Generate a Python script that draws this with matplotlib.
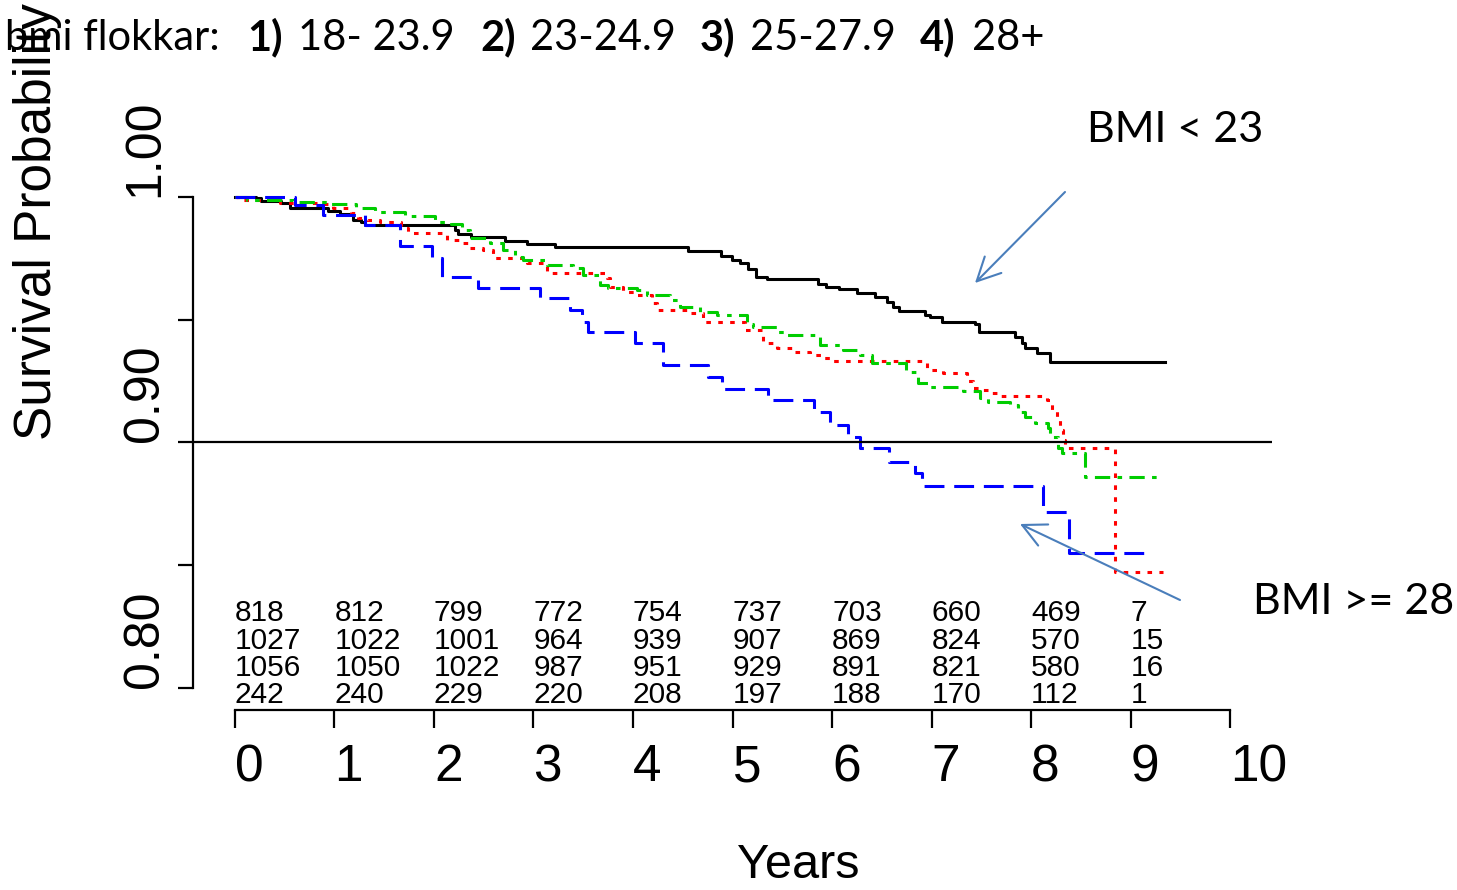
import matplotlib.pyplot as plt

# Kaplan-Meier steps (years, survival)
t_g1 = [0, 0.211, 0.261, 0.462, 0.553, 0.935, 1.055, 1.186, 1.266, 1.307, 2.211, 2.241, 2.372, 2.714,
        2.935, 3.216, 4.553, 4.884, 4.995, 5.075, 5.156, 5.236, 5.347, 5.859, 5.940, 6.070, 6.251,
        6.432, 6.553, 6.613, 6.673, 6.935, 6.985, 7.106, 7.437, 7.477, 7.839, 7.910, 7.940, 8.060, 8.191]
s_g1 = [1.0, 0.9996, 0.9984, 0.9976, 0.9955, 0.9943, 0.9931, 0.9906, 0.9898, 0.9886, 0.9866, 0.9849,
        0.9837, 0.9821, 0.9809, 0.9796, 0.9780, 0.9760, 0.9743, 0.9731, 0.9707, 0.9674, 0.9666, 0.9646,
        0.9633, 0.9625, 0.9609, 0.9593, 0.9572, 0.9552, 0.9536, 0.9519, 0.9511, 0.9491, 0.9483, 0.9450,
        0.9430, 0.9405, 0.9385, 0.9365, 0.9328]
end_g1 = 9.347

t_g2 = [0, 0.03, 0.452, 0.854, 0.985, 1.166, 1.236, 1.327, 1.457, 1.668, 1.739, 2.131, 2.271, 2.342,
        2.492, 2.593, 2.935, 3.136, 3.739, 3.769, 3.899, 4.040, 4.191, 4.241, 4.543, 4.704, 5.126,
        5.296, 5.307, 5.447, 5.608, 5.779, 5.910, 5.980, 6.955, 7.116, 7.357, 7.417, 7.518, 7.608,
        7.688, 8.161, 8.211, 8.261, 8.291, 8.322, 8.342, 8.844]
s_g2 = [1.0, 0.9988, 0.9976, 0.9971, 0.9955, 0.9935, 0.9914, 0.9906, 0.9898, 0.9874, 0.9853, 0.9825,
        0.9813, 0.9792, 0.9784, 0.9752, 0.9731, 0.9690, 0.9670, 0.9633, 0.9613, 0.9601, 0.9568, 0.9540,
        0.9527, 0.9491, 0.9458, 0.9438, 0.9405, 0.9385, 0.9369, 0.9356, 0.9344, 0.9332, 0.9295, 0.9283,
        0.9251, 0.9222, 0.9214, 0.9202, 0.9189, 0.9173, 0.9132, 0.9092, 0.9051, 0.9010, 0.8978, 0.8473]
end_g2 = 9.327

t_g3 = [0, 0.121, 0.583, 0.965, 1.216, 1.407, 1.709, 2.010, 2.171, 2.281, 2.362, 2.563, 2.693, 2.814,
        2.894, 3.136, 3.397, 3.497, 3.668, 3.749, 4.040, 4.141, 4.372, 4.472, 4.673, 4.844, 5.146,
        5.206, 5.447, 5.548, 5.879, 6.111, 6.281, 6.402, 6.744, 6.864, 6.985, 7.317, 7.487, 7.568,
        7.789, 7.869, 7.940, 8.040, 8.171, 8.191, 8.271, 8.312, 8.543]
s_g3 = [1.0, 0.9988, 0.9980, 0.9971, 0.9955, 0.9939, 0.9923, 0.9898, 0.9890, 0.9866, 0.9833, 0.9813,
        0.9784, 0.9756, 0.9743, 0.9723, 0.9711, 0.9682, 0.9642, 0.9629, 0.9621, 0.9601, 0.9580, 0.9552,
        0.9532, 0.9519, 0.9483, 0.9470, 0.9450, 0.9438, 0.9397, 0.9377, 0.9356, 0.9324, 0.9287, 0.9242,
        0.9226, 0.9210, 0.9181, 0.9165, 0.9153, 0.9124, 0.9104, 0.9079, 0.9059, 0.9022, 0.8978, 0.8957,
        0.8859]
end_g3 = 9.286

t_g4 = [0, 0.603, 0.884, 1.307, 1.658, 1.980, 2.080, 2.442, 3.065, 3.367, 3.487, 3.548, 4.020, 4.302,
        4.754, 4.894, 5.357, 5.819, 5.980, 6.161, 6.281, 6.573, 6.834, 6.905, 8.121, 8.382]
s_g4 = [1.0, 0.9967, 0.9927, 0.9886, 0.9801, 0.9752, 0.9674, 0.9629, 0.9589, 0.9540, 0.9491, 0.9450,
        0.9405, 0.9316, 0.9267, 0.9218, 0.9173, 0.9124, 0.9071, 0.9022, 0.8978, 0.8921, 0.8876, 0.8823,
        0.8717, 0.8550]
end_g4 = 9.166

# numbers at risk
risk_years = [0, 1, 2, 3, 4, 5, 6, 7, 8, 9]
risk_g1 = [818, 812, 799, 772, 754, 737, 703, 660, 469, 7]
risk_g2 = [1027, 1022, 1001, 964, 939, 907, 869, 824, 570, 15]
risk_g3 = [1056, 1050, 1022, 987, 951, 929, 891, 821, 580, 16]
risk_g4 = [242, 240, 229, 220, 208, 197, 188, 170, 112, 1]

W, H = 1457, 890
fig = plt.figure(figsize=(W / 100, H / 100), dpi=100)
# plot region in pixels: x 193..1272, y 60..710 (from top)
ax = fig.add_axes([193 / W, (H - 710) / H, (1272 - 193) / W, (710 - 60) / H])

arial = 'Liberation Sans'
calibri = 'Lato'

curves = [
    (t_g1, s_g1, end_g1, 'black', (None, None)),
    (t_g2, s_g2, end_g2, '#FF0000', (1.5, 2.4)),
    (t_g3, s_g3, end_g3, '#00CD00', (5, 2.4, 1.5, 2.4)),
    (t_g4, s_g4, end_g4, '#0000FF', (6.5, 3.2)),
]
for t, s, end, col, dash in curves:
    line, = ax.plot(t + [end], s + [s[-1]], drawstyle='steps-post', color=col, lw=2.2)
    if dash[0] is not None:
        line.set_dashes(dash)

ax.axhline(0.90, color='black', lw=1.6)

ax.set_xlim(-0.422, 10.422)
ax.set_ylim(0.79104, 1.0558)

for side in ['top', 'right']:
    ax.spines[side].set_visible(False)
ax.spines['left'].set_bounds(0.80, 1.00)
ax.spines['bottom'].set_bounds(0, 10)
ax.spines['left'].set_linewidth(1.6)
ax.spines['bottom'].set_linewidth(1.6)

ax.set_xticks(range(11))
ax.set_xticklabels([str(i) for i in range(11)], fontsize=37, family=arial, ha='left')
ax.tick_params(axis='x', length=13, width=1.6, pad=11)

ax.set_yticks([0.80, 0.85, 0.90, 0.95, 1.00])
ax.set_yticklabels(['0.80', '', '0.90', '', '1.00'], fontsize=36, family=arial,
                   rotation=90, va='bottom')
ax.tick_params(axis='y', length=11, width=1.6, pad=7)

# number-at-risk rows (y positions in data units)
row_y = [0.8306, 0.8192, 0.8082, 0.7972]
for yy, row in zip(row_y, [risk_g1, risk_g2, risk_g3, risk_g4]):
    for x, n in zip(risk_years, row):
        ax.text(x, yy, str(n), fontsize=21.5, family=arial, ha='left', va='center')

fig.text(38 / W, (H - 222) / H, 'Survival Probability', rotation=90, fontsize=37,
         family=arial, ha='center', va='center')
fig.text(798 / W, (H - 866) / H, 'Years', fontsize=35, family=arial, ha='center', va='center')

# title line
title_parts = [
    (5, 'bmi flokkar:', 'normal'), (247, '1)', 'bold'), (298, '18- 23.9', 'normal'),
    (480, '2)', 'bold'), (530, '23-24.9', 'normal'), (700, '3)', 'bold'),
    (750, '25-27.9', 'normal'), (920, '4)', 'bold'), (972, '28+', 'normal'),
]
for px, txt, wt in title_parts:
    fig.text(px / W, (H - 50) / H, txt, fontsize=30, family=calibri, weight=wt,
             ha='left', va='baseline')

arrow_col = '#4A7EBB'
fig.text(1087 / W, (H - 142) / H, 'BMI < 23', fontsize=31, family=calibri, ha='left', va='baseline')
fig.text(1253 / W, (H - 614) / H, 'BMI >= 28', fontsize=31, family=calibri, ha='left', va='baseline')
ax.annotate('', xy=(975, H - 283), xytext=(1065, H - 192), xycoords='figure pixels',
            arrowprops=dict(arrowstyle='->,head_length=0.6,head_width=0.3', color=arrow_col,
                            lw=1.5, mutation_scale=28, shrinkA=0, shrinkB=0))
ax.annotate('', xy=(1020, H - 524), xytext=(1180, H - 600), xycoords='figure pixels',
            arrowprops=dict(arrowstyle='->,head_length=0.6,head_width=0.3', color=arrow_col,
                            lw=1.5, mutation_scale=28, shrinkA=0, shrinkB=0))

fig.savefig('out.png', dpi=100)
